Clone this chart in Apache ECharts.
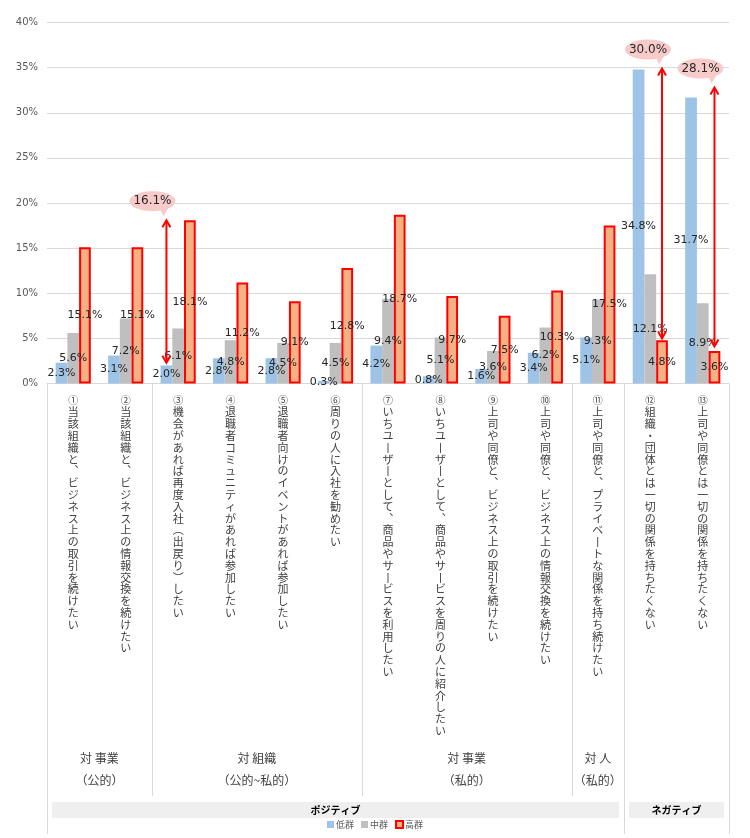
<!DOCTYPE html>
<html><head><meta charset="utf-8">
<script src="https://cdn.jsdelivr.net/npm/echarts/dist/echarts.min.js"></script>
<style>html,body{margin:0;padding:0;background:#fff}#c{width:750px;height:838px}</style>
</head><body><div id="c"></div>
<script>
const categories = [
  '①当該組織と、ビジネス上の取引を続けたい',
  '②当該組織と、ビジネス上の情報交換を続けたい',
  '③機会があれば再度入社（出戻り）したい',
  '④退職者コミュニティがあれば参加したい',
  '⑤退職者向けのイベントがあれば参加したい',
  '⑥周りの人に入社を勧めたい',
  '⑦いちユーザーとして、商品やサービスを利用したい',
  '⑧いちユーザーとして、商品やサービスを周りの人に紹介したい',
  '⑨上司や同僚と、ビジネス上の取引を続けたい',
  '⑩上司や同僚と、ビジネス上の情報交換を続けたい',
  '⑪上司や同僚と、プライベートな関係を持ち続けたい',
  '⑫組織・団体とは一切の関係を持ちたくない',
  '⑬上司や同僚とは一切の関係を持ちたくない'
];
const seriesNames = ['低群', '中群', '高群'];
const lowGroup  = [2.3, 3.1, 2.0, 2.8, 2.8, 0.3, 4.2, 0.8, 1.6, 3.4, 5.1, 34.8, 31.7];
const midGroup  = [5.6, 7.2, 6.1, 4.8, 4.5, 4.5, 9.4, 5.1, 3.6, 6.2, 9.3, 12.1, 8.9];
const highGroup = [15.1, 15.1, 18.1, 11.2, 9.1, 12.8, 18.7, 9.7, 7.5, 10.3, 17.5, 4.8, 3.6];

// gap annotations (arrow + bubble)
const gapCategory = [2, 11, 12];
const gapFrom     = [2.3, 5.0, 4.1];
const gapTo       = [18.1, 34.9, 32.8];
const gapSeries   = [0, 2, 2];
const gapLabels   = ['16.1%', '30.0%', '28.1%'];

// category groups
const groupTitles = ['対 事業', '対 組織', '対 事業', '対 人'];
const groupSubs   = ['（公的）', '（公的~私的）', '（私的）', '（私的）'];
const groupStart  = [0, 2, 6, 10];
const groupEnd    = [1, 5, 9, 10];
const polarityNames = ['ポジティブ', 'ネガティブ'];
const polarityStart = [0, 11];
const polarityEnd   = [10, 12];

const yTicks = [0, 40, 5];

const FONT = '"Noto Sans CJK JP", "Noto Sans", sans-serif';
const NUMFONT = '"DejaVu Sans", sans-serif';
const vmap = {'、': '︑', 'ー': '丨', '（': '︵', '）': '︶', '－': '丨'};
function vertical(s) {
  const chars = Array.from(s);
  const first = chars.shift();
  return '{n|' + first + '}\n' + chars.map(c => vmap[c] || c).join('\n');
}
const BAR_GAP_CAT = 0.33;

const chart = echarts.init(document.getElementById('c'), null, {renderer: 'canvas'});
const lbl = {
  show: true, position: 'inside', color: '#262626', fontSize: 11, fontFamily: NUMFONT,
  formatter: p => p.value.toFixed(1) + '%'
};
const option = {
  animation: false,
  textStyle: {fontFamily: FONT},
  grid: {left: 47, right: 21, top: 22.5, bottom: 454.5},
  legend: {
    bottom: 4, left: 'center', itemWidth: 7, itemHeight: 7, itemGap: 7, icon: 'rect',
    textStyle: {fontSize: 9, color: '#595959', fontFamily: FONT, padding: [0, 0, 0, -3]},
    data: seriesNames
  },
  xAxis: {
    type: 'category', data: categories,
    axisLine: {lineStyle: {color: '#D9D9D9'}},
    axisTick: {show: false},
    axisLabel: {
      interval: 0, margin: 11, color: '#404040', fontSize: 11, lineHeight: 11.8,
      verticalAlign: 'top', formatter: vertical,
      rich: {n: {fontSize: 10, lineHeight: 11.8, color: '#404040'}}
    }
  },
  yAxis: {
    type: 'value', min: yTicks[0], max: yTicks[1], interval: yTicks[2],
    axisLabel: {formatter: '{value}%', color: '#595959', fontSize: 10, margin: 9, fontFamily: NUMFONT},
    axisLine: {show: false}, axisTick: {show: false},
    splitLine: {lineStyle: {color: '#D9D9D9'}}
  },
  series: [
    {name: seriesNames[0], type: 'bar', data: lowGroup, barGap: 0, barCategoryGap: (BAR_GAP_CAT*100)+'%',
     itemStyle: {color: '#9DC3E6'}, label: lbl},
    {name: seriesNames[1], type: 'bar', data: midGroup, barGap: 0, barCategoryGap: (BAR_GAP_CAT*100)+'%',
     itemStyle: {color: '#BFBFBF'}, label: lbl},
    {name: seriesNames[2], type: 'bar', data: highGroup, barGap: 0, barCategoryGap: (BAR_GAP_CAT*100)+'%',
     itemStyle: {color: '#F4B183', borderColor: '#FF0000', borderWidth: 2}, label: lbl},
    {
      type: 'custom', z: 10, clip: false, silent: true,
      data: gapCategory.map((c, i) => [c, gapFrom[i], gapTo[i], gapSeries[i]]),
      renderItem: function (params, api) {
        const cat = api.value(0), s = api.value(3);
        const band = api.size([1, 0])[0];
        const barW = band * (1 - BAR_GAP_CAT) / 3;
        const x = api.coord([cat, 0])[0] + (s - 1) * barW;
        const y1 = api.coord([cat, api.value(1)])[1];
        const y2 = api.coord([cat, api.value(2)])[1];
        const top = Math.min(y1, y2), bot = Math.max(y1, y2);
        const hw = 4, hh = 7;
        const red = '#FF0000';
        const cx = x - 14, cy = top - 19, rx = 23, ry = 10;
        const pts = [];
        for (let k = 0; k < 48; k++) {
          const a = k / 48 * Math.PI * 2;
          pts.push([cx + rx * Math.cos(a), cy + ry * Math.sin(a)]);
        }
        return {
          type: 'group',
          children: [
            {type: 'line', shape: {x1: x, y1: top + 1, x2: x, y2: bot - 1}, style: {stroke: red, lineWidth: 2}},
            {type: 'polyline', shape: {points: [[x - hw, top + hh], [x, top], [x + hw, top + hh]]}, style: {stroke: red, lineWidth: 2, fill: null}},
            {type: 'polyline', shape: {points: [[x - hw, bot - hh], [x, bot], [x + hw, bot - hh]]}, style: {stroke: red, lineWidth: 2, fill: null}},
            {type: 'polygon', shape: {points: pts}, style: {fill: '#F8CBCB'}},
            {type: 'polygon', shape: {points: [[cx + 8, cy + 8], [cx + 17, cy + 5], [x - 3, top - 4]]}, style: {fill: '#F8CBCB'}},
            {type: 'text', style: {x: cx, y: cy, text: gapLabels[params.dataIndex], align: 'center', verticalAlign: 'middle',
              fill: '#262626', font: '12px ' + NUMFONT}}
          ]
        };
      }
    }
  ]
};
chart.setOption(option);

// group annotations below the axis, positioned from the axis scale
const c0 = chart.convertToPixel({xAxisIndex: 0}, 0);
const c1 = chart.convertToPixel({xAxisIndex: 0}, 1);
const band = c1 - c0;
const axisY = chart.convertToPixel({yAxisIndex: 0}, 0);
const leftOf = i => chart.convertToPixel({xAxisIndex: 0}, i) - band / 2;
const rightOf = i => chart.convertToPixel({xAxisIndex: 0}, i) + band / 2;
const g = [];
const lineStyle = {stroke: '#D9D9D9', lineWidth: 1};
[leftOf(polarityStart[0]), leftOf(polarityStart[1]), rightOf(polarityEnd[1])].forEach(x => {
  g.push({type: 'line', shape: {x1: Math.round(x) + 0.5, y1: axisY, x2: Math.round(x) + 0.5, y2: 834}, style: lineStyle});
});
for (let i = 1; i < groupStart.length; i++) {
  const x = Math.round(leftOf(groupStart[i])) + 0.5;
  g.push({type: 'line', shape: {x1: x, y1: axisY, x2: x, y2: 796}, style: lineStyle});
}
for (let i = 0; i < groupTitles.length; i++) {
  const xc = (leftOf(groupStart[i]) + rightOf(groupEnd[i])) / 2;
  g.push({type: 'text', style: {x: xc, y: 758, text: groupTitles[i], align: 'center', verticalAlign: 'middle', fill: '#404040', font: '12px ' + FONT}});
  g.push({type: 'text', style: {x: xc, y: 780, text: groupSubs[i], align: 'center', verticalAlign: 'middle', fill: '#404040', font: '12px ' + FONT}});
}
for (let i = 0; i < polarityNames.length; i++) {
  const x1 = leftOf(polarityStart[i]) + 5, x2 = rightOf(polarityEnd[i]) - 5;
  g.push({type: 'rect', shape: {x: x1, y: 802, width: x2 - x1, height: 16}, style: {fill: '#EFEFEF'}});
  g.push({type: 'text', style: {x: (x1 + x2) / 2, y: 810, text: polarityNames[i], align: 'center', verticalAlign: 'middle', fill: '#000', font: 'bold 10px ' + FONT}});
}
chart.setOption({graphic: g});
</script>
</body></html>
